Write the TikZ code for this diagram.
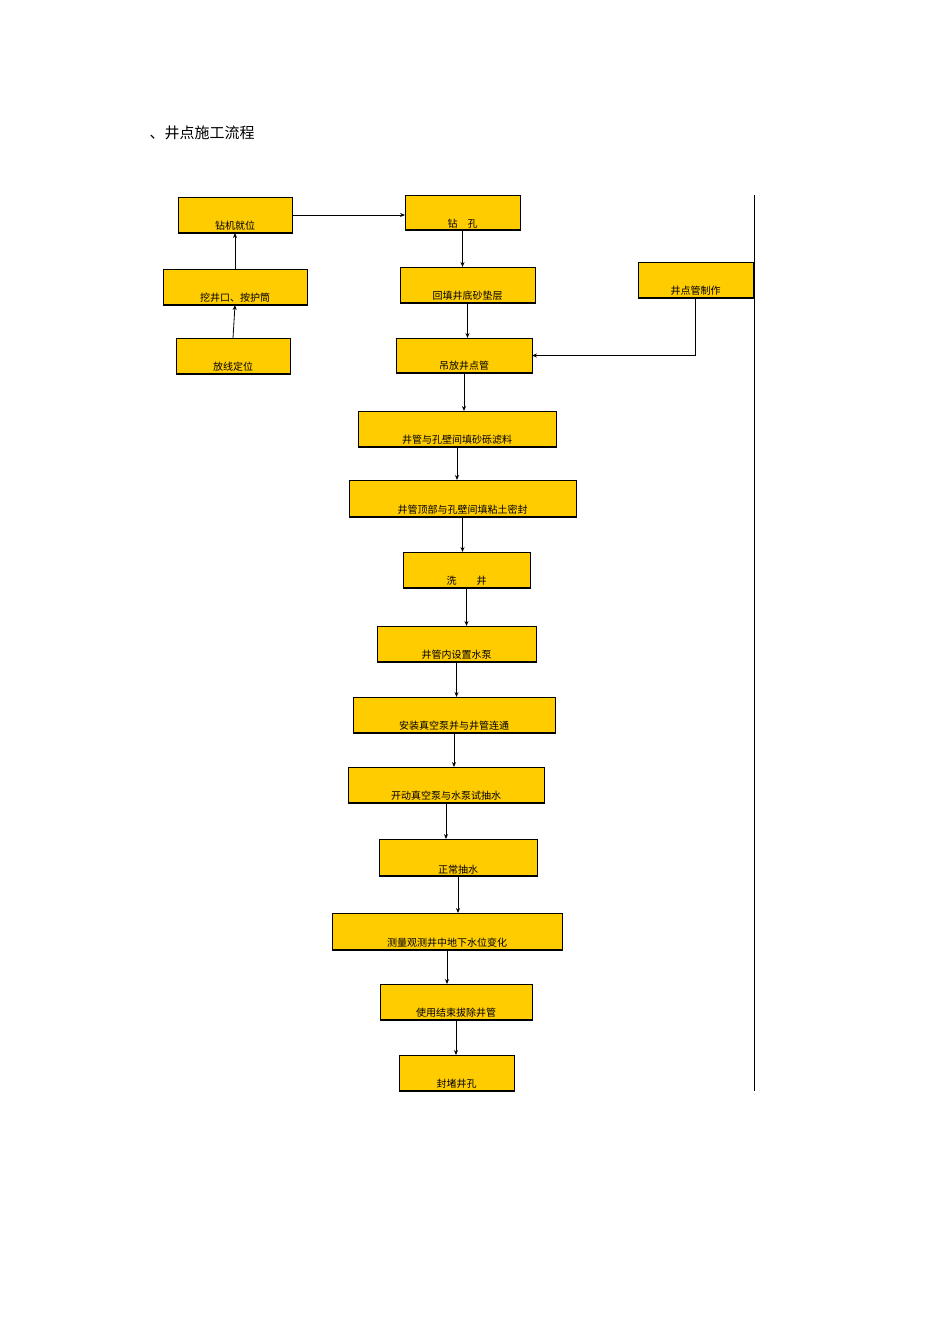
\documentclass[tikz,border=0pt]{standalone}
\usepackage{fontspec}
\newfontfamily\cjk{Noto Sans CJK SC}
\usetikzlibrary{arrows.meta}
\begin{document}
\begin{tikzpicture}[x=1pt,y=-1pt,
 arr/.style={-{Stealth[length=5pt,width=4pt]},line width=0.8pt},
 lab/.style={font=\cjk\fontsize{10}{12}\selectfont,anchor=south,inner sep=2pt}]
\definecolor{yel}{HTML}{FFCC00}
\useasboundingbox (0,0) rectangle (950,1344);
\node[anchor=west,font=\cjk\fontsize{15}{18}\selectfont] (title) at (146,133) {、井点施工流程};
\newcommand\bx[6]{%
 \fill[yel] (#2,#3) rectangle (#4,#5);
 \draw[line width=0.6pt] (#2,#3) rectangle (#4,#5);
 \draw[line width=1.6pt] (#2,#5) -- (#4,#5);
 \coordinate (#1) at ({(#2+#4)/2},{(#3+#5)/2});
 \coordinate (#1-n) at ({(#2+#4)/2},#3);
 \coordinate (#1-s) at ({(#2+#4)/2},#5);
 \coordinate (#1-w) at (#2,{(#3+#5)/2});
 \coordinate (#1-e) at (#4,{(#3+#5)/2});
 \node[lab] (#1-t) at ({(#2+#4)/2},#5) {#6};}
\bx{a}{178}{197}{292}{233}{钻机就位}
\bx{b}{405}{195}{520}{230}{钻\quad 孔}
\bx{c}{163}{269}{307}{305}{挖井口、按护筒}
\bx{d}{400}{267}{535}{303}{回填井底砂垫层}
\bx{e}{638}{262}{753}{298}{井点管制作}
\bx{f}{176}{338}{290}{374}{放线定位}
\bx{g}{396}{338}{532}{373}{吊放井点管}
\bx{h}{358}{411}{556}{447}{井管与孔壁间填砂砾滤料}
\bx{i}{349}{480}{576}{517}{井管顶部与孔壁间填粘土密封}
\bx{j}{403}{552}{530}{588}{洗\qquad 井}
\bx{k}{377}{626}{536}{662}{井管内设置水泵}
\bx{l}{353}{697}{555}{733}{安装真空泵并与井管连通}
\bx{m}{348}{767}{544}{803}{开动真空泵与水泵试抽水}
\bx{n}{379}{839}{537}{876}{正常抽水}
\bx{o}{332}{913}{562}{950}{测量观测井中地下水位变化}
\bx{p}{380}{984}{532}{1020}{使用结束拔除井管}
\bx{q}{399}{1055}{514}{1091}{封堵井孔}
\draw[line width=0.6pt] (754,195) -- (754,1091);
\draw[arr] (a-e) -- (b-w |- a-e);
\draw[arr] (c-n) -- (a-s);
\draw[arr] (f-n) -- (c-s);
\draw[arr] (e-s) -- (e-s |- g-e) -- (g-e);
\foreach \u/\v in {b/d,d/g,g/h,h/i,i/j,j/k,k/l,l/m,m/n,n/o,o/p,p/q}
 \draw[arr] (\u-s) -- (\u-s |- \v-n);
\end{tikzpicture}
\end{document}
